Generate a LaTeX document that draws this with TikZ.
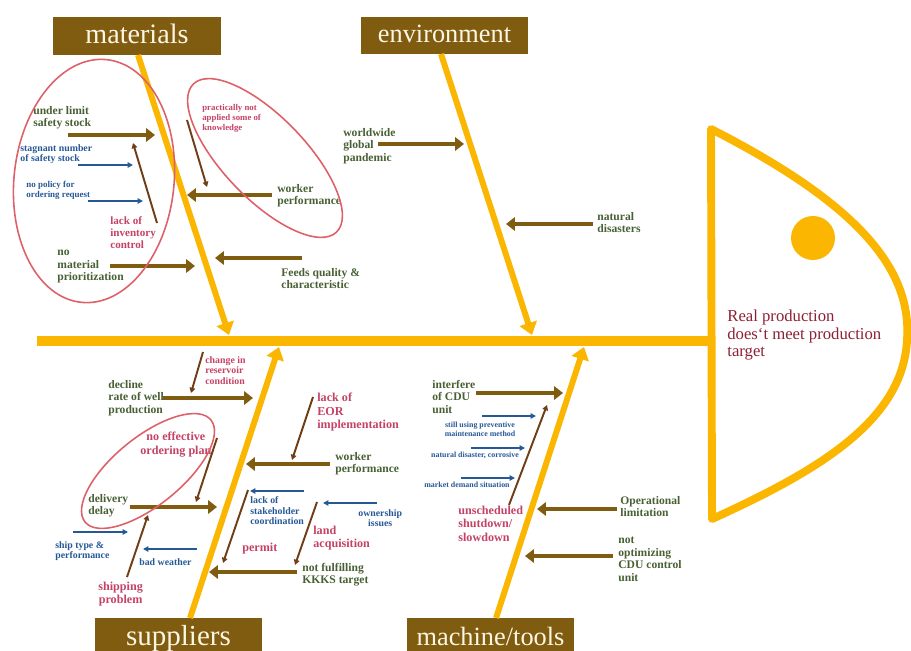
\documentclass[tikz,border=0pt]{standalone}
\usepackage{fontspec}
\setmainfont{Liberation Serif}
\usetikzlibrary{arrows.meta}
\definecolor{bonegold}{RGB}{250,182,0}
\definecolor{boxbrown}{RGB}{128,92,16}
\definecolor{causegreen}{RGB}{72,96,52}
\definecolor{subblue}{RGB}{38,88,150}
\definecolor{subpink}{RGB}{196,66,102}
\definecolor{subbrown}{RGB}{112,62,22}
\definecolor{headred}{RGB}{140,32,52}
\definecolor{ringred}{RGB}{222,96,104}
\definecolor{boxtext}{RGB}{252,246,228}
\tikzset{
  bone/.style={bonegold, line width=3.4pt, -{Triangle[length=7pt,width=10pt]}},
  spine/.style={bonegold, line width=5.7pt},
  headline/.style={bonegold, line width=4.5pt, line join=round, line cap=round},
  causearrow/.style={boxbrown, line width=2.8pt, -{Triangle[length=5pt,width=7.5pt]}},
  subarrow/.style={subbrown, line width=1.1pt, -{Triangle[length=3pt,width=3.2pt]}},
  bluearrow/.style={subblue, line width=0.9pt, -{Triangle[length=3pt,width=3pt]}},
  catbox/.style={fill=boxbrown, text=boxtext, inner sep=0pt, text depth=0pt},
  causetext/.style={text=causegreen, align=left, inner sep=0pt, anchor=north west, font=\bfseries\fontsize{6.6}{7.1}\selectfont},
  pinktext/.style={text=subpink, align=left, inner sep=0pt, anchor=north west, font=\bfseries\fontsize{6.9}{7.5}\selectfont},
  smallpink/.style={text=subpink, align=left, inner sep=0pt, anchor=north west, font=\bfseries\fontsize{5.6}{6.1}\selectfont},
  bluetext/.style={text=subblue, align=left, inner sep=0pt, anchor=north west, font=\bfseries\fontsize{5.6}{6.1}\selectfont},
  tinytext/.style={text=subblue, align=center, inner sep=0pt, anchor=north, font=\bfseries\fontsize{4.5}{5.1}\selectfont},
  ring/.style={ringred, line width=0.9pt}
}
\begin{document}
\begin{tikzpicture}[x=0.02cm, y=-0.02cm]
  \useasboundingbox (0,0) rectangle (911,651);

  % category boxes
  \node[catbox, minimum width=3.36cm, minimum height=0.76cm, text height=9pt, font=\fontsize{16}{18}\selectfont] (materials) at (137,36) {materials};
  \node[catbox, minimum width=3.34cm, minimum height=0.74cm, text height=8.5pt, font=\fontsize{15}{18}\selectfont] (environment) at (444.5,35.5) {environment};
  \node[catbox, minimum width=3.34cm, minimum height=0.66cm, text height=12pt, font=\fontsize{16.5}{18}\selectfont] (suppliers) at (178.5,634.5) {suppliers};
  \node[catbox, minimum width=3.34cm, minimum height=0.66cm, text height=12pt, font=\fontsize{15}{18}\selectfont] (machine) at (490.5,634.5) {machine/tools};

  % bones and spine
  \coordinate (spineL) at (37,341);
  \coordinate (spineR) at (711,341);
  \coordinate (matT) at (138,55);   \coordinate (matB) at (229,335);
  \coordinate (envT) at (441,54);   \coordinate (envB) at (532,335);
  \coordinate (supB) at (190,618);  \coordinate (supT) at (279,347);
  \coordinate (macB) at (496,618);  \coordinate (macT) at (584,347);
  \draw[spine] (spineL) -- (spineR);
  \draw[bone] (matT) -- (matB);
  \draw[bone] (envT) -- (envB);
  \draw[bone] (supB) -- (supT);
  \draw[bone] (macB) -- (macT);

  % fish head
  \coordinate (headT) at (711,129);
  \coordinate (headM) at (907,340);
  \coordinate (headB) at (712,519);
  \coordinate (eye) at (813,238);
  \draw[headline] (headT) -- (headB) .. controls (820,470) and (903,420) .. (headM) .. controls (912,270) and (860,205) .. cycle;
  \fill[bonegold] (eye) circle [radius=22];
  \node[text=headred, align=left, inner sep=0pt, anchor=north west, font=\fontsize{9.5}{9.9}\selectfont] (effect) at (727,310) {Real production\\does`t meet production\\target};

  % materials
  \node[causetext] (underlimit) at (33,106) {under limit\\safety stock};
  \node[bluetext] (stagnant) at (20,144) {stagnant number\\of safety stock};
  \node[bluetext, font=\bfseries\fontsize{5.1}{5.8}\selectfont] (nopolicy) at (26,181) {no policy for\\ordering request};
  \node[pinktext, font=\bfseries\fontsize{6.3}{7}\selectfont] (inventory) at (110,216) {lack of\\inventory\\control};
  \node[causetext] (prioritize) at (57,250) {no\\material\\prioritization};
  \node[smallpink, font=\bfseries\fontsize{5}{5.6}\selectfont] (knowledge) at (202,104) {practically not\\applied some of\\knowledge};
  \node[causetext] (workerA) at (277,184) {worker\\performance};
  \node[causetext] (feeds) at (281,268) {Feeds quality \&\\characteristic};
  \coordinate (ulS) at (68,135);   \coordinate (ulE) at (155,135);
  \coordinate (stS) at (78,165);   \coordinate (stE) at (133,165);
  \coordinate (npS) at (88,201);   \coordinate (npE) at (143,201);
  \coordinate (icS) at (157,223);  \coordinate (icE) at (133,143);
  \coordinate (prS) at (110,266);  \coordinate (prE) at (195,266);
  \coordinate (knS) at (187,120);  \coordinate (knE) at (207,187);
  \coordinate (waS) at (272,195);  \coordinate (waE) at (187,195);
  \coordinate (fqS) at (302,258);  \coordinate (fqE) at (215,258);
  \draw[causearrow] (ulS) -- (ulE);
  \draw[bluearrow] (stS) -- (stE);
  \draw[bluearrow] (npS) -- (npE);
  \draw[subarrow] (icS) -- (icE);
  \draw[causearrow] (prS) -- (prE);
  \draw[subarrow] (knS) -- (knE);
  \draw[causearrow] (waS) -- (waE);
  \draw[causearrow] (fqS) -- (fqE);

  % environment
  \node[causetext] (pandemic) at (343,128) {worldwide\\global\\pandemic};
  \node[causetext] (disasters) at (597,212) {natural\\disasters};
  \coordinate (gpS) at (378,144);  \coordinate (gpE) at (464,144);
  \coordinate (ndS) at (593,224);  \coordinate (ndE) at (506,224);
  \draw[causearrow] (gpS) -- (gpE);
  \draw[causearrow] (ndS) -- (ndE);

  % suppliers
  \node[smallpink] (reservoir) at (205,356) {change in\\reservoir\\condition};
  \node[causetext] (decline) at (108,380) {decline\\rate of well\\production};
  \node[pinktext, align=center] (ordering) at (140,432) {no effective\\ordering plan};
  \node[causetext] (delivery) at (88,494) {delivery\\delay};
  \node[bluetext] (shiptype) at (55,541) {ship type \&\\performance};
  \node[bluetext] (weather) at (139,558) {bad weather};
  \node[pinktext, align=center] (shipping) at (98,582) {shipping\\problem};
  \node[pinktext] (eor) at (317,393) {lack of\\EOR\\implementation};
  \node[causetext] (workerB) at (335,452) {worker\\performance};
  \node[bluetext] (stakeholder) at (250,496) {lack of\\stakeholder\\coordination};
  \node[pinktext] (permit) at (242,543) {permit};
  \node[bluetext, align=center] (ownership) at (358,509) {ownership\\issues};
  \node[pinktext] (land) at (313,526) {land\\acquisition};
  \node[causetext] (kkks) at (302,563) {not fulfilling\\KKKS target};
  \coordinate (rcS) at (203,352);  \coordinate (rcE) at (191,393);
  \coordinate (drS) at (163,398);  \coordinate (drE) at (253,398);
  \coordinate (opS) at (217,438);  \coordinate (opE) at (196,502);
  \coordinate (ddS) at (130,507);  \coordinate (ddE) at (217,507);
  \coordinate (stpS) at (73,532);  \coordinate (stpE) at (128,532);
  \coordinate (bwS) at (197,549);  \coordinate (bwE) at (143,549);
  \coordinate (spS) at (127,577);  \coordinate (spE) at (148,515);
  \coordinate (eoS) at (313,397);  \coordinate (eoE) at (292,460);
  \coordinate (wbS) at (330,464);  \coordinate (wbE) at (246,464);
  \coordinate (skS) at (304,491);  \coordinate (skE) at (250,491);
  \coordinate (pmS) at (248,490);  \coordinate (pmE) at (223,563);
  \coordinate (owS) at (377,503);  \coordinate (owE) at (323,503);
  \coordinate (laS) at (317,502);  \coordinate (laE) at (295,565);
  \coordinate (kkS) at (297,572);  \coordinate (kkE) at (209,572);
  \draw[subarrow] (rcS) -- (rcE);
  \draw[causearrow] (drS) -- (drE);
  \draw[subarrow] (opS) -- (opE);
  \draw[causearrow] (ddS) -- (ddE);
  \draw[bluearrow] (stpS) -- (stpE);
  \draw[bluearrow] (bwS) -- (bwE);
  \draw[subarrow] (spS) -- (spE);
  \draw[subarrow] (eoS) -- (eoE);
  \draw[causearrow] (wbS) -- (wbE);
  \draw[bluearrow] (skS) -- (skE);
  \draw[subarrow] (pmS) -- (pmE);
  \draw[bluearrow] (owS) -- (owE);
  \draw[subarrow] (laS) -- (laE);
  \draw[causearrow] (kkS) -- (kkE);

  % machine/tools
  \node[causetext] (interfere) at (432,380) {interfere\\of CDU\\unit};
  \node[tinytext] (preventive) at (480,422) {still using preventive\\maintenance method};
  \node[tinytext] (corrosive) at (475,452) {natural disaster, corrosive};
  \node[tinytext] (market) at (467,482) {market demand situation};
  \node[pinktext] (shutdown) at (458,506) {unscheduled\\shutdown/\\slowdown};
  \node[causetext] (operational) at (620,496) {Operational\\limitation};
  \node[causetext] (optimizing) at (618,537) {not\\optimizing\\CDU control\\unit};
  \coordinate (icdS) at (476,393); \coordinate (icdE) at (563,393);
  \coordinate (pvS) at (482,416);  \coordinate (pvE) at (536,416);
  \coordinate (ncS) at (471,448);  \coordinate (ncE) at (525,448);
  \coordinate (mdS) at (461,478);  \coordinate (mdE) at (515,478);
  \coordinate (usS) at (509,505);  \coordinate (usE) at (547,405);
  \coordinate (olS) at (617,509);  \coordinate (olE) at (537,509);
  \coordinate (ocS) at (613,556);  \coordinate (ocE) at (525,556);
  \draw[causearrow] (icdS) -- (icdE);
  \draw[bluearrow] (pvS) -- (pvE);
  \draw[bluearrow] (ncS) -- (ncE);
  \draw[bluearrow] (mdS) -- (mdE);
  \draw[subarrow] (usS) -- (usE);
  \draw[causearrow] (olS) -- (olE);
  \draw[causearrow] (ocS) -- (ocE);

  % rings
  \coordinate (ringA) at (94,181);
  \coordinate (ringB) at (265,158);
  \coordinate (ringC) at (148,471);
  \draw[ring, rotate around={-6:(ringA)}] (ringA) ellipse [x radius=80, y radius=122];
  \draw[ring, rotate around={-46:(ringB)}] (ringB) ellipse [x radius=103, y radius=41];
  \draw[ring, rotate around={39:(ringC)}] (ringC) ellipse [x radius=81, y radius=34];
\end{tikzpicture}
\end{document}
